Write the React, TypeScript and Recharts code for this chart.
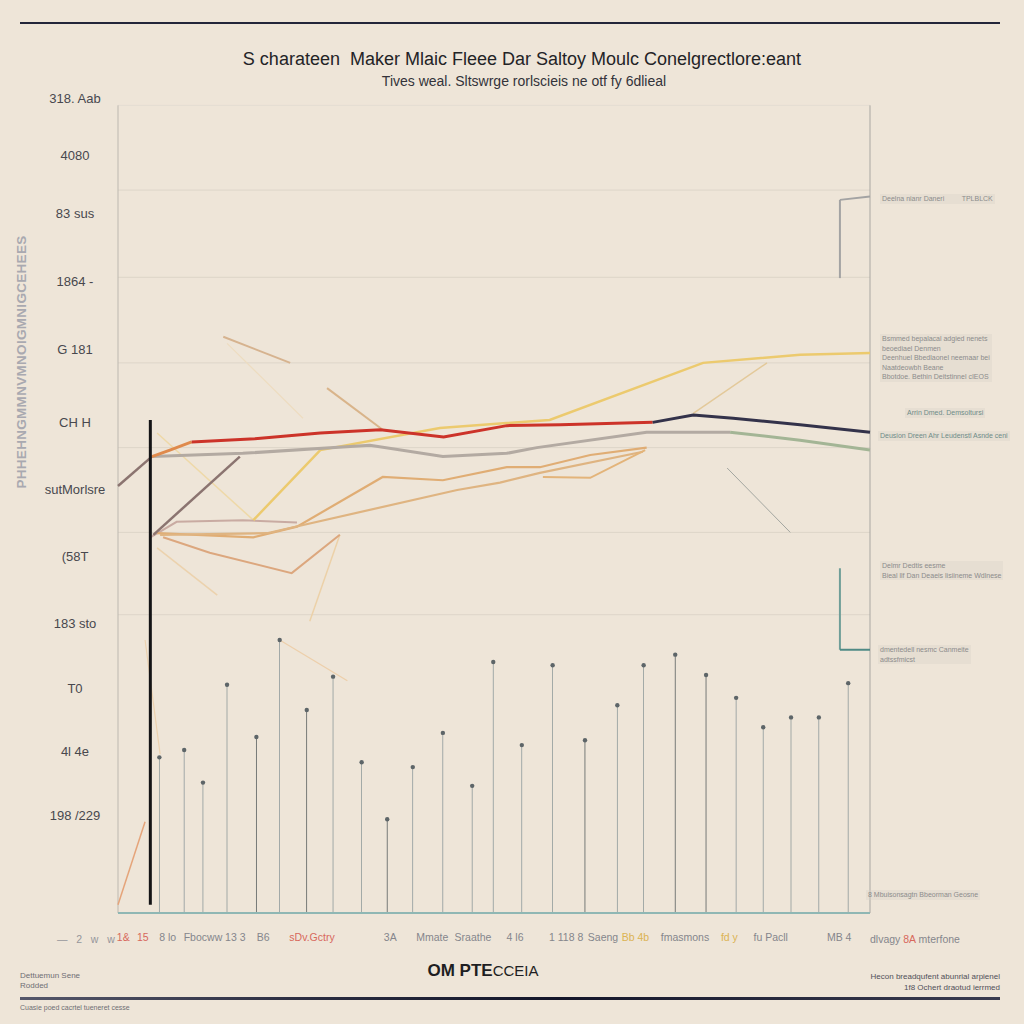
import React from 'react';
import {
  ComposedChart,
  Bar,
  Line,
  Cell,
  XAxis,
  YAxis,
  ReferenceLine,
} from 'recharts';

// ---- data (x: 0-100 along the frame, y: 0-100 up the frame)

const stemX = [5.5, 8.8, 11.3, 14.5, 18.4, 21.5, 25.1, 28.6, 32.4, 35.8, 39.2, 43.2, 47.1, 49.9, 53.7, 57.8, 62.1, 66.4, 69.9, 74.1, 78.2, 82.2, 85.8, 89.5, 93.2, 97.1];
const stemTop = [19.1, 20.0, 16.0, 28.0, 21.6, 33.5, 24.9, 29.0, 18.5, 11.5, 17.9, 22.1, 15.6, 30.8, 20.6, 30.4, 21.2, 25.5, 30.4, 31.7, 29.2, 26.4, 22.8, 24.0, 24.0, 28.2];
const darkStems = [4, 6, 9, 16, 19, 20];

const redLine = [
  { x: 9.8, y: 57.8 }, { x: 18.2, y: 58.2 }, { x: 26.9, y: 58.9 }, { x: 34.9, y: 59.3 },
  { x: 43.3, y: 58.4 }, { x: 51.7, y: 59.8 }, { x: 58.8, y: 59.9 }, { x: 71.1, y: 60.2 },
];
const orangeLead = [{ x: 4.5, y: 56.0 }, { x: 6.9, y: 56.8 }, { x: 9.8, y: 57.8 }];
const navyLine = [
  { x: 71.1, y: 60.2 }, { x: 76.5, y: 61.1 }, { x: 81.8, y: 60.7 }, { x: 90.7, y: 59.9 }, { x: 100, y: 59.0 },
];
const greyLine = [
  { x: 4.5, y: 56.0 }, { x: 16.6, y: 56.4 }, { x: 33.5, y: 57.4 }, { x: 43.2, y: 56.0 },
  { x: 51.7, y: 56.4 }, { x: 55.7, y: 57.1 }, { x: 70.3, y: 59.0 }, { x: 81.4, y: 59.0 },
];
const greenLine = [{ x: 81.4, y: 59.0 }, { x: 90.7, y: 58.0 }, { x: 100, y: 56.8 }];
const brownLead = [{ x: 0, y: 52.4 }, { x: 4.5, y: 56.0 }];
const brownRise = [{ x: 4.7, y: 46.4 }, { x: 16.2, y: 56.0 }];
const yellowLine = [
  { x: 18.0, y: 48.2 }, { x: 26.9, y: 56.8 }, { x: 42.8, y: 59.5 }, { x: 57.4, y: 60.5 },
  { x: 77.8, y: 67.5 }, { x: 90.7, y: 68.5 }, { x: 100, y: 68.7 },
];
const yellowBranch = [{ x: 76.5, y: 61.3 }, { x: 86.3, y: 67.5 }];
const tanA = [
  { x: 5.2, y: 46.6 }, { x: 18.0, y: 46.1 }, { x: 23.8, y: 47.4 }, { x: 35.2, y: 53.5 }, { x: 43.2, y: 53.1 },
  { x: 51.7, y: 54.7 }, { x: 56.1, y: 54.7 }, { x: 62.8, y: 56.2 }, { x: 70.3, y: 57.1 },
];
const tanB = [
  { x: 5.6, y: 46.4 }, { x: 19.8, y: 46.6 }, { x: 45.1, y: 51.9 }, { x: 50.8, y: 52.8 },
  { x: 56.1, y: 54.0 }, { x: 69.8, y: 56.6 },
];
const tanLoop = [{ x: 56.5, y: 53.5 }, { x: 62.8, y: 53.4 }, { x: 70.1, y: 56.8 }];
const tanDrop = [{ x: 6.0, y: 46.1 }, { x: 12.2, y: 44.2 }, { x: 23.1, y: 41.7 }, { x: 29.5, y: 46.4 }];
const mauveLine = [{ x: 4.3, y: 46.1 }, { x: 7.8, y: 48.0 }, { x: 16.6, y: 48.2 }, { x: 23.8, y: 47.9 }];
const strokeA = [{ x: 14.0, y: 70.7 }, { x: 22.9, y: 67.5 }];
const strokeB = [{ x: 27.8, y: 64.4 }, { x: 35.2, y: 59.3 }];
const strokeC = [{ x: 5.2, y: 58.9 }, { x: 18.0, y: 48.2 }];
const strokeD = [{ x: 14.5, y: 69.9 }, { x: 24.6, y: 60.7 }];
const strokeE = [{ x: 5.2, y: 44.8 }, { x: 13.2, y: 39.0 }];
const strokeF = [{ x: 29.5, y: 46.4 }, { x: 25.5, y: 35.8 }];
const strokeG = [{ x: 21.5, y: 33.5 }, { x: 30.5, y: 28.5 }];
const strokeH = [{ x: 3.6, y: 33.5 }, { x: 5.6, y: 19.5 }];
const strokeI = [{ x: 0, y: 1.0 }, { x: 3.6, y: 11.2 }];
const greyDiag = [{ x: 81.0, y: 54.6 }, { x: 89.4, y: 46.7 }];

const yTicks = [100, 93.0, 85.8, 77.5, 69.1, 60.2, 52.0, 43.7, 35.5, 27.6, 19.8, 12.0];
const yLabels = ['318. Aab', '4080', '83 sus', '1864 -', 'G 181', 'CH   H', 'sutMorlsre', '(58T', '183  sto', 'T0', '4l      4e', '198 /229'];
const gridValues = [88.7, 78.0, 67.5, 57.1, 46.7, 36.6];

const xTicks = [0.7, 3.3, 6.6, 11.3, 15.6, 19.3, 25.8, 36.2, 41.8, 47.2, 52.8, 59.6, 64.5, 68.8, 75.4, 81.3, 86.8, 95.9];
const xLabels = ['1&', '15', '8 lo', 'Fbocww', '13  3', 'B6', 'sDv.Gctry', '3A', 'Mmate', 'Sraathe', '4  l6', '1 118 8', 'Saeng', 'Bb 4b', 'fmasmons', 'fd  y', 'fu Pacll', 'MB  4'];
const xRed = [0, 1, 6];
const xYellow = [13, 15];

const stemData = stemX.map((x, i) => ({ x, v: stemTop[i] }));

const FONT = "'Liberation Sans', Arial, sans-serif";
const NARROW = "'Liberation Sans Narrow', 'Liberation Sans', Arial, sans-serif";

const XTick = (props: any) => {
  const { x, y, payload, index } = props;
  const color = xRed.includes(index) ? '#d8685c' : xYellow.includes(index) ? '#dcb352' : '#85858c';
  return (
    <text x={x} y={y} dy={10} textAnchor="middle" fill={color} fontSize={10.5} fontFamily={NARROW}>
      {xLabels[xTicks.indexOf(payload.value)]}
    </text>
  );
};

const note = (top: number, left: number, lines: string[], color = '#8c8c8c') => (
  <div
    style={{
      position: 'absolute',
      top,
      left,
      fontSize: 7,
      lineHeight: '9.5px',
      color,
      fontFamily: NARROW,
      background: 'rgba(214,208,200,0.35)',
      padding: '0 2px',
      whiteSpace: 'nowrap',
    }}
  >
    {lines.map((l) => (
      <div key={l}>{l}</div>
    ))}
  </div>
);

const thin = (data: { x: number; y: number }[], color: string, width: number, key: string) => (
  <Line
    key={key}
    data={data}
    dataKey="y"
    type="linear"
    stroke={color}
    strokeWidth={width}
    dot={false}
    activeDot={false}
    isAnimationActive={false}
  />
);

export default function App() {
  return (
    <div
      style={{
        position: 'absolute',
        left: 0,
        top: 0,
        width: 1024,
        height: 1024,
        background: '#eee5d8',
        overflow: 'hidden',
        fontFamily: FONT,
      }}
    >
      <div style={{ position: 'absolute', left: 20, top: 22, width: 980, height: 2, background: '#23263a' }} />
      <div style={{ position: 'absolute', top: 49, width: 1044, textAlign: 'center', fontSize: 18, color: '#232326' }}>
        S charateen&nbsp; Maker Mlaic Fleee Dar Saltoy Moulc Conelgrectlore:eant
      </div>
      <div style={{ position: 'absolute', top: 73, width: 1048, textAlign: 'center', fontSize: 14, color: '#33333a', fontFamily: NARROW }}>
        Tives weal. Sltswrge rorlscieis ne otf fy 6dlieal
      </div>
      <div
        style={{
          position: 'absolute',
          left: 21,
          top: 362,
          transform: 'translate(-50%, -50%) rotate(-90deg)',
          fontSize: 13.5,
          fontWeight: 700,
          color: '#a9a9b0',
          whiteSpace: 'nowrap',
          fontFamily: NARROW,
          letterSpacing: 0.3,
        }}
      >
        PHHEHNGMMNVMNOIGMNIGCEHEES
      </div>

      <ComposedChart
        width={1024}
        height={1024}
        data={stemData}
        margin={{ top: 98, right: 154, bottom: 81, left: 0 }}
        style={{ position: 'absolute', left: 0, top: 0 }}
      >
        <XAxis
          dataKey="x"
          type="number"
          domain={[0, 100]}
          ticks={xTicks}
          interval={0}
          height={30}
          tickSize={0}
          tickMargin={18}
          tick={<XTick />}
          axisLine={{ stroke: '#8fb7b4', strokeWidth: 2 }}
          tickLine={false}
        />
        <YAxis
          type="number"
          domain={[0, 100]}
          ticks={yTicks}
          interval={0}
          width={118}
          tickSize={0}
          tickMargin={43}
          tickFormatter={(v: number) => yLabels[yTicks.indexOf(v)]}
          tick={{ textAnchor: 'middle', fill: '#48484e', fontSize: 13, fontFamily: NARROW }}
          axisLine={false}
          tickLine={false}
        />
        {gridValues.map((g) => (
          <ReferenceLine key={g} y={g} stroke="#ddd5c9" strokeWidth={1} />
        ))}
        <ReferenceLine segment={[{ x: 0, y: 99.1 }, { x: 100, y: 99.1 }]} stroke="#e4ddd2" />
        <ReferenceLine segment={[{ x: 0, y: 0 }, { x: 0, y: 99.1 }]} stroke="#bdb8b0" />
        <ReferenceLine segment={[{ x: 100, y: 0 }, { x: 100, y: 99.1 }]} stroke="#a9a7a2" />

        {thin(strokeA, '#d6b38f', 2, 'sa')}
        {thin(strokeB, '#d9b48a', 2, 'sb')}
        {thin(strokeC, '#eed9a8', 1.5, 'sc')}
        {thin(strokeD, '#eddcc0', 1.2, 'sd')}
        {thin(strokeE, '#ecd2ad', 1.5, 'se')}
        {thin(strokeF, '#ecd1a8', 1.5, 'sf')}
        {thin(strokeG, '#edcfaa', 1.2, 'sg')}
        {thin(strokeH, '#ecd2b0', 1.2, 'sh')}
        {thin(strokeI, '#e5a47a', 1.5, 'si')}
        {thin(greyDiag, '#a3a6a0', 1, 'gd')}

        <Bar dataKey="v" barSize={2} isAnimationActive={false}>
          {stemData.map((s, i) => (
            <Cell key={s.x} fill={darkStems.includes(i) ? '#3f484b' : '#7e8d91'} />
          ))}
        </Bar>
        <Line
          dataKey="v"
          stroke="none"
          dot={{ r: 2.2, fill: '#5d6568', stroke: 'none' }}
          activeDot={false}
          isAnimationActive={false}
        />

        {thin(mauveLine, '#c9aba2', 2, 'mv')}
        {thin(tanDrop, '#dca77e', 2, 'td')}
        {thin(tanA, '#e0ad74', 2.2, 'ta')}
        {thin(tanB, '#dfb481', 2.2, 'tb')}
        {thin(tanLoop, '#e3b47a', 2, 'tl')}
        {thin(yellowBranch, '#e3c99a', 1.5, 'yb')}
        {thin(yellowLine, '#ecca6e', 2.5, 'yl')}
        {thin(brownRise, '#8b7470', 2.5, 'br')}
        {thin(brownLead, '#8b7470', 2.5, 'bl')}
        {thin(greyLine, '#b3aaa2', 3, 'gl')}
        {thin(greenLine, '#a3b595', 3, 'gn')}
        {thin(orangeLead, '#df8a4c', 3, 'ol')}
        {thin(redLine, '#cc3329', 3, 'rl')}
        {thin(navyLine, '#33324a', 3, 'nl')}

        <ReferenceLine segment={[{ x: 4.3, y: 1 }, { x: 4.3, y: 60.5 }]} stroke="#141416" strokeWidth={3} />
        <ReferenceLine segment={[{ x: 96.0, y: 77.9 }, { x: 96.0, y: 87.5 }]} stroke="#a3a3a3" strokeWidth={2} />
        <ReferenceLine segment={[{ x: 96.0, y: 87.5 }, { x: 100, y: 87.9 }]} stroke="#a3a3a3" strokeWidth={2} />
        <ReferenceLine segment={[{ x: 96.0, y: 32.3 }, { x: 96.0, y: 42.3 }]} stroke="#6f9e98" strokeWidth={2} />
        <ReferenceLine segment={[{ x: 96.0, y: 32.3 }, { x: 100, y: 32.3 }]} stroke="#4f8a85" strokeWidth={2} />
      </ComposedChart>

      <div style={{ position: 'absolute', left: 57, top: 933, fontSize: 10.5, color: '#95959b', fontFamily: NARROW, whiteSpace: 'pre' }}>
        {'—   2   w   w'}
      </div>
      <div style={{ position: 'absolute', left: 870, top: 933, fontSize: 10.5, color: '#85858c', fontFamily: NARROW }}>
        dlvagy <span style={{ color: '#d8685c' }}>8A</span> mterfone
      </div>

      {note(194, 880, ['Deelna nianr Daneri \u00a0 \u00a0 \u00a0 \u00a0 TPLBLCK'])}
      {note(334, 880, ['Bsmmed bepalacal adgied nenets', 'beoediael Denmen', 'Deenhuel Bbedlaonel neemaar bei', 'Naatdeowbh Beane', 'Bbotdoe. Bethin Deitstinnel cIEOS'])}
      {note(408, 905, ['Arrin Dmed. Demsoltursi'], '#6e8c88')}
      {note(431, 878, ['Deusion Dreen Ahr Leudenstl Asnde ceni'], '#6e8c88')}
      {note(561, 880, ['Delmr Dedtis eesme', 'Bieal llf Dan Deaeis lisiineme Wdlnese'])}
      {note(645, 878, ['dmentedell nesmc Canmeite', 'adtssfmicst'])}
      {note(890, 866, ['8 Mbuisonsagtn Bbeorman Geosne'])}

      <div style={{ position: 'absolute', top: 961, width: 966, textAlign: 'center', fontSize: 15, color: '#1e1e22', fontFamily: NARROW }}>
        <b style={{ fontSize: 17 }}>OM PTE</b>CCEIA
      </div>
      <div style={{ position: 'absolute', left: 20, top: 971, fontSize: 8, lineHeight: '10px', color: '#6e6e74', fontFamily: NARROW }}>
        Dettuemun Sene
        <br />
        Rodded
      </div>
      <div style={{ position: 'absolute', right: 24, top: 971, fontSize: 8, lineHeight: '11px', color: '#505058', textAlign: 'right', fontFamily: NARROW }}>
        Hecon breadqufent abunrial arpienel
        <br />
        1f8 Ochert draotud ierrmed
      </div>
      <div
        style={{
          position: 'absolute',
          left: 20,
          top: 997,
          width: 980,
          height: 3,
          background: 'linear-gradient(90deg, #55576a 0%, #2a2c40 30%, #14162a 55%, #2a2c40 80%, #3a3c50 100%)',
        }}
      />
      <div style={{ position: 'absolute', left: 20, top: 1004, fontSize: 7, color: '#6e6e74', fontFamily: NARROW }}>
        Cuasie poed cacrtel tueneret cesse
      </div>
    </div>
  );
}
